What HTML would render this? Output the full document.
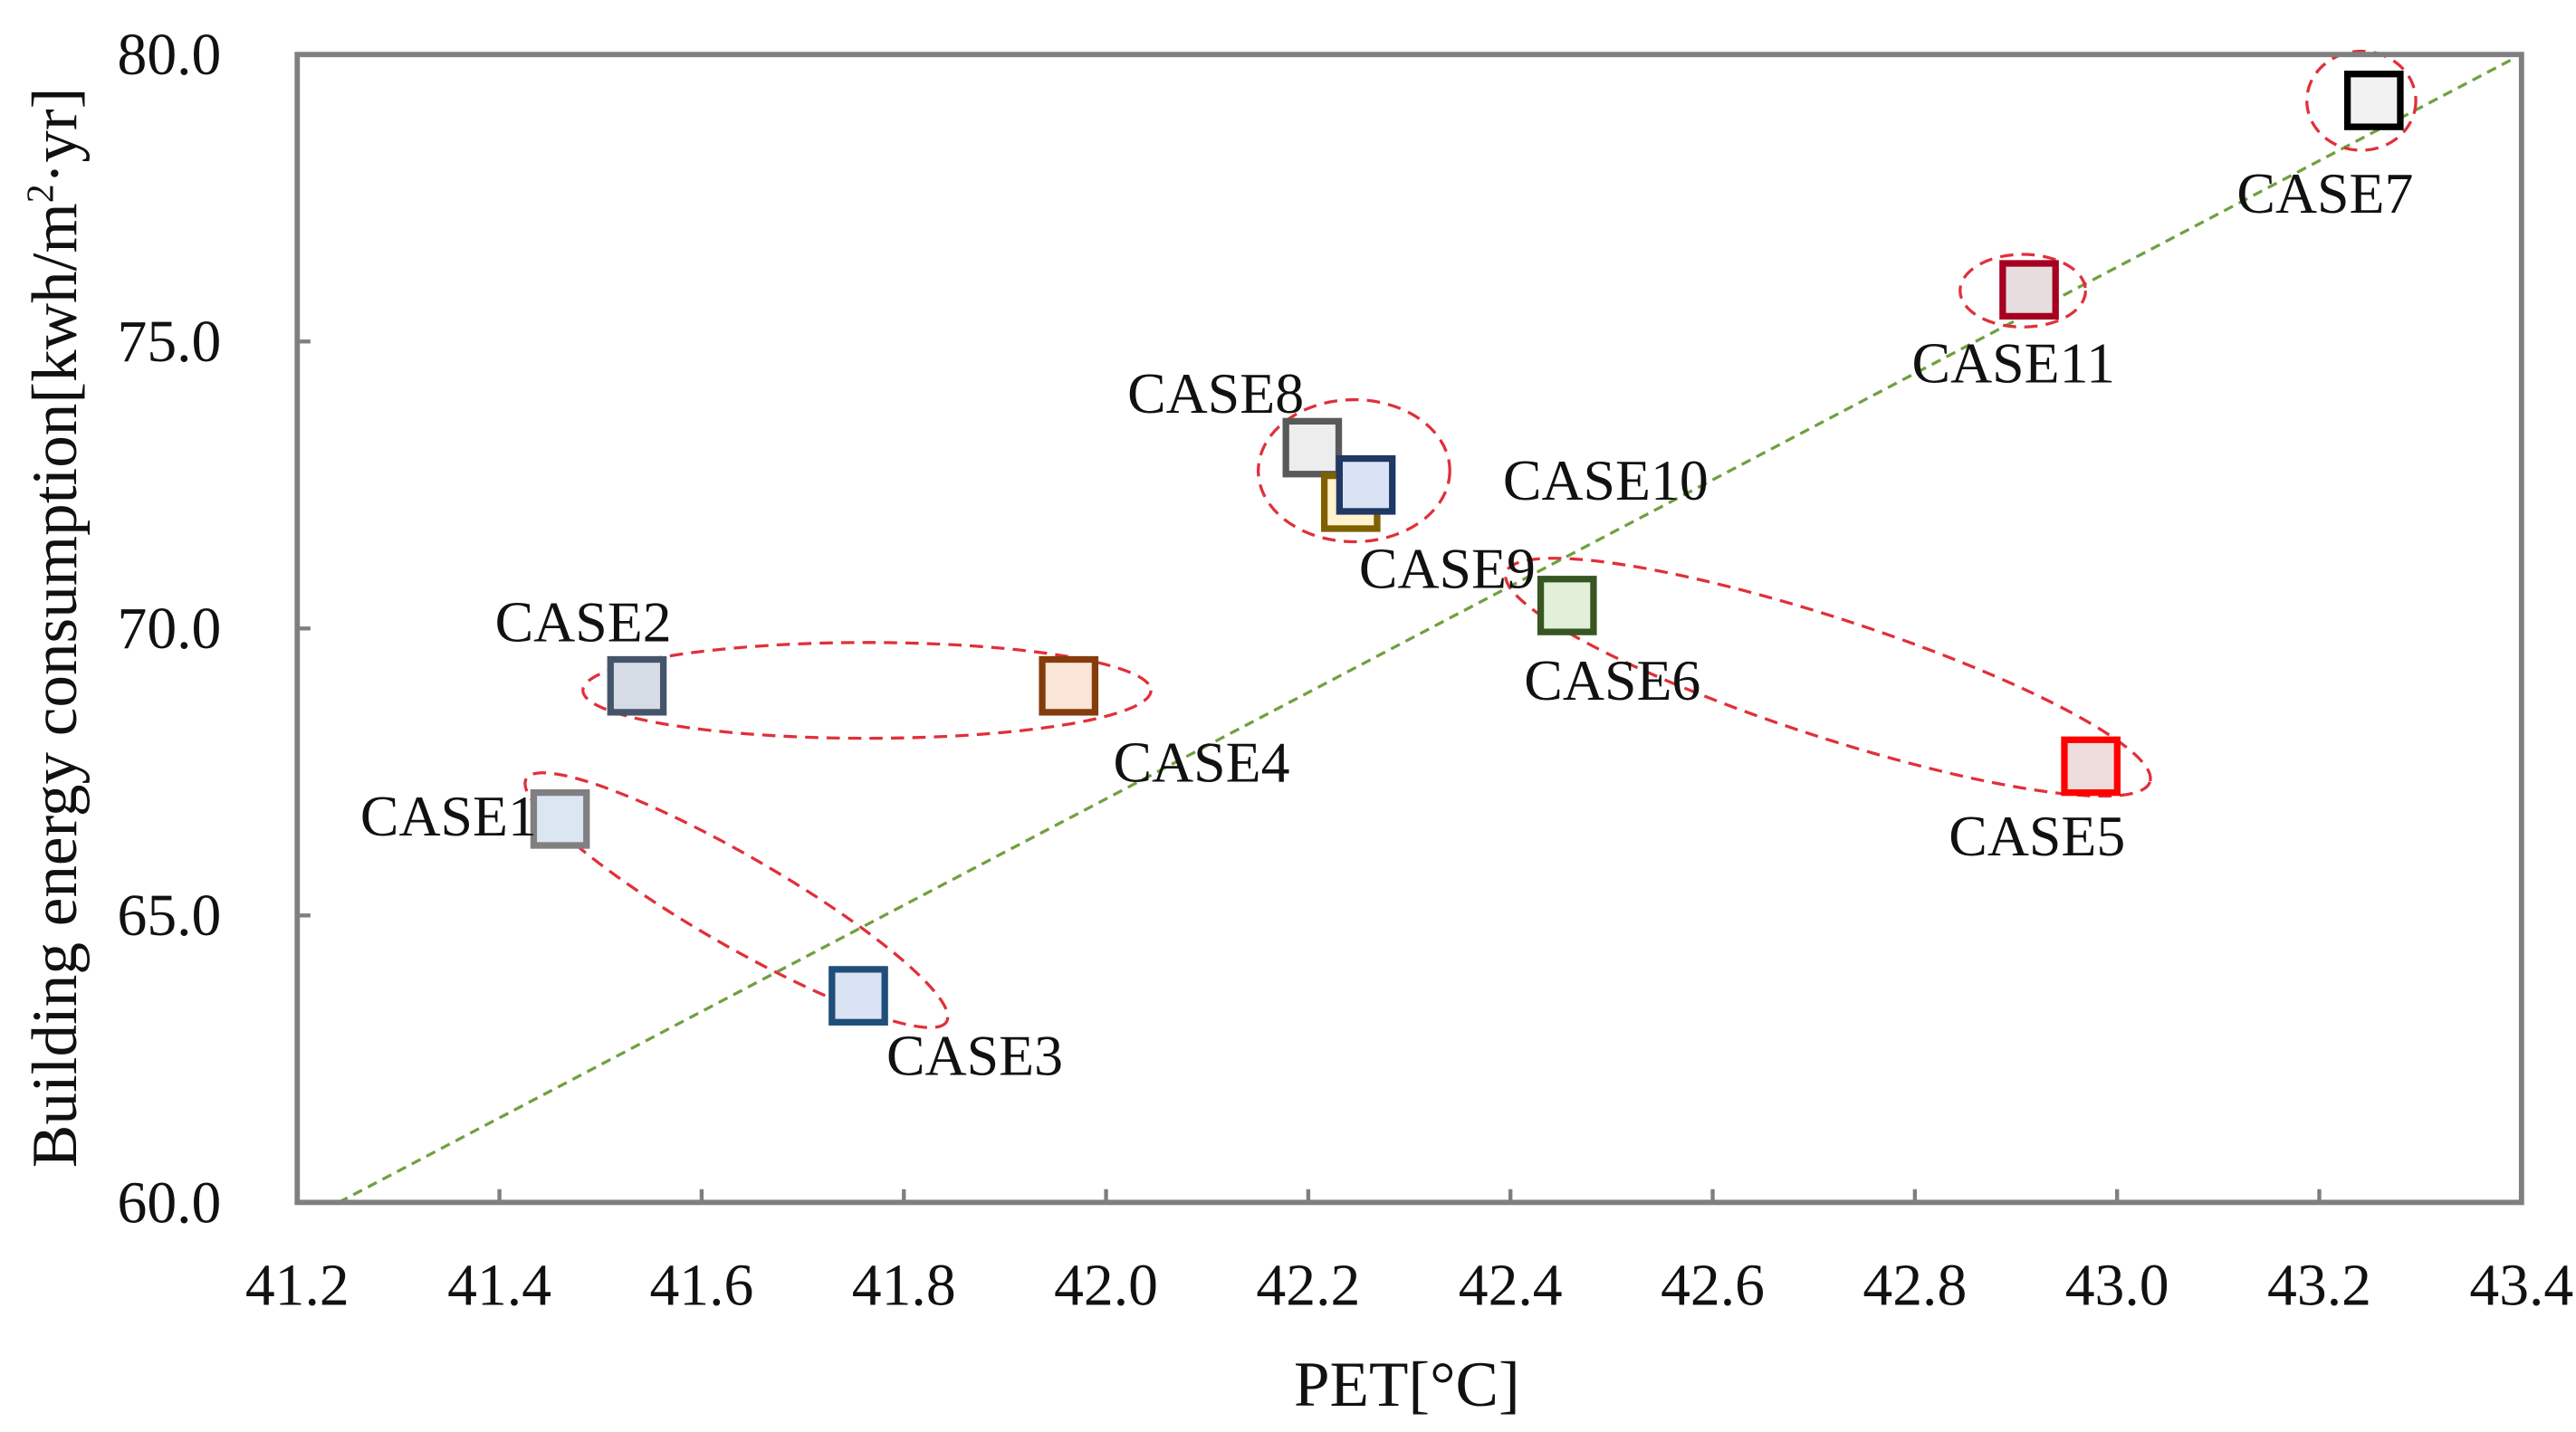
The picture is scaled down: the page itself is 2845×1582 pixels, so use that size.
<!DOCTYPE html>
<html><head><meta charset="utf-8"><style>
html,body{margin:0;padding:0;background:#fff;}
svg{display:block;}
text{font-family:"Liberation Serif","DejaVu Serif",serif;fill:#111;}
</style></head><body>
<svg id="chart" width="2845" height="1582" viewBox="0 0 1560 867" preserveAspectRatio="none" xmlns="http://www.w3.org/2000/svg">
<g id="grid"></g>
<g id="fit"></g>
<g id="ellipses"></g>
<g id="marks"></g>
<g id="labels"></g>
<rect x="180" y="33" width="1347" height="695" fill="none" stroke="#7f7f7f" stroke-width="3.2"/>
<text x="852" y="851" font-size="39" text-anchor="middle">PET[°C]</text>
<text transform="translate(46,380) rotate(-90)" font-size="39" text-anchor="middle">Building energy consumption[kwh/m<tspan font-size="23" dy="-14">2</tspan><tspan dy="14">·yr]</tspan></text>
</svg>
<script>
const cases = ["CASE1","CASE2","CASE3","CASE4","CASE5","CASE6","CASE7","CASE8","CASE9","CASE10","CASE11"];
const petValues = [41.46,41.536,41.755,41.963,42.974,42.456,43.254,42.204,42.242,42.257,42.913];
const energyValues = [66.68,69.0,63.6,69.0,67.6,70.4,79.2,73.15,72.2,72.5,75.9];
const xTicks = [41.2,41.4,41.6,41.8,42.0,42.2,42.4,42.6,42.8,43.0,43.2,43.4];
const yTicks = [60,65,70,75,80];
const fitLine = [[41.241,60],[43.389,79.9]];

const strokes = ["#808080","#44546a","#1f4e79","#843c0c","#ff0000","#375623","#000000","#595959","#7f6000","#1f3864","#a50021"];
const fills = ["#dce6f2","#d6dce5","#dae3f3","#fbe5d6","#eedcdc","#e2f0d9","#f2f2f2","#ededed","#fff2cc","#dae3f3","#e6dede"];
const labelOffsets = [[-121,10],[-86,-27],[17,48],[27,58],[-86,54],[-26,57],[-83,68],[-112,-21],[5,52],[83,9],[-71,56]];
const drawOrder = [0,1,2,3,4,5,6,7,8,9,10];

const L=180,R=1527,T=33,B=728;
const xs=v=>L+(v-41.2)/(43.4-41.2)*(R-L);
const ys=v=>B-(v-60)/(80-60)*(B-T);
const NS="http://www.w3.org/2000/svg";
function mk(tag,attrs,parent){const e=document.createElementNS(NS,tag);for(const k in attrs)e.setAttribute(k,attrs[k]);parent.appendChild(e);return e;}
const grid=document.getElementById('grid');
xTicks.forEach(t=>{
  const ln=mk('line',{x1:xs(t),x2:xs(t),y1:B,y2:B-8,stroke:'#7f7f7f','stroke-width':2.4},grid);
  
  
  const tx=mk('text',{x:xs(t),y:B+62,'font-size':36,'text-anchor':'middle'},grid);
  tx.textContent=t.toFixed(1);
  
  
});
yTicks.forEach(t=>{
  const ln=mk('line',{x1:L,x2:L+8,y1:ys(t),y2:ys(t),stroke:'#7f7f7f','stroke-width':2.4},grid);
  
  
  const tx=mk('text',{x:134,y:ys(t)+12,'font-size':36,'text-anchor':'end'},grid);
  tx.textContent=t.toFixed(1);
  
  
});
const fl=mk('line',{x1:xs(fitLine[0][0]),y1:ys(fitLine[0][1]),x2:xs(fitLine[1][0]),y2:ys(fitLine[1][1]),stroke:'#70a040','stroke-width':1.8,'stroke-dasharray':'6,4'},document.getElementById('fit'));



const eg=document.getElementById('ellipses');
const ellipses=[[525,418,172,29,0],[446,545,147,27,30],[820,285,58,43,0],[1107,410,205,36,18],[1225,176,38,22,0],[1430,61,33,30,0]];
ellipses.forEach(e=>{
  const el=mk('ellipse',{cx:e[0],cy:e[1],rx:e[2],ry:e[3],transform:`rotate(${e[4]} ${e[0]} ${e[1]})`,fill:'none',stroke:'#e0303a','stroke-width':1.8,'stroke-dasharray':'8,5'},eg);
  
  
});
const mg=document.getElementById('marks'),lg=document.getElementById('labels');
drawOrder.forEach(i=>{
  const cx=xs(petValues[i]),cy=ys(energyValues[i]),s=32;
  const r=mk('rect',{x:cx-s/2,y:cy-s/2,width:s,height:s,fill:fills[i],stroke:strokes[i],'stroke-width':4},mg);
  
  
  const t=mk('text',{x:cx+labelOffsets[i][0],y:cy+labelOffsets[i][1],'font-size':35},lg);
  t.textContent=cases[i];
  
  
});
</script>
</body></html>
